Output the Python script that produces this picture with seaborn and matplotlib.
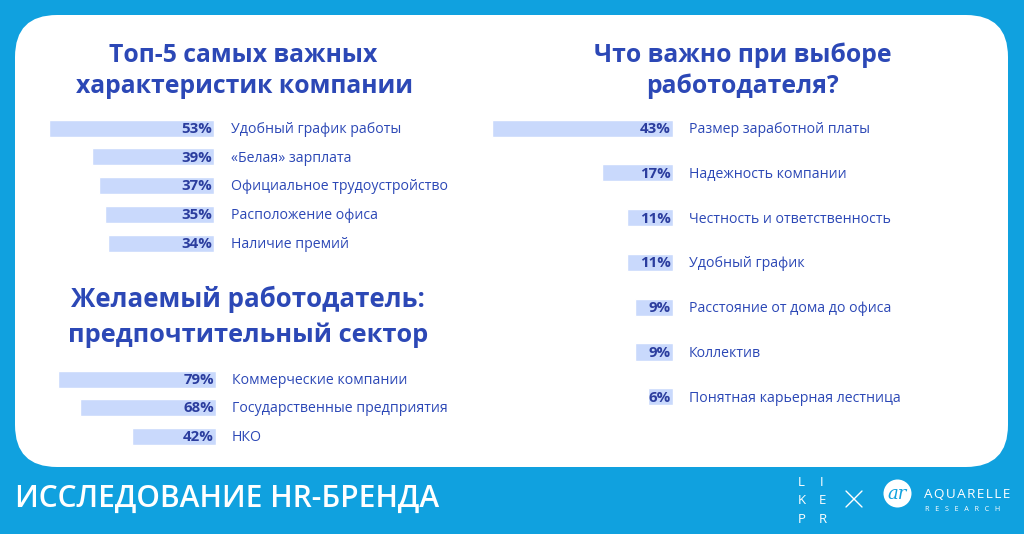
import numpy as np
import pandas as pd
import matplotlib.pyplot as plt
import seaborn as sns
from matplotlib.patches import FancyBboxPatch, Circle
from matplotlib.lines import Line2D

# ---- data ----
top5_labels = ["Удобный график работы", "«Белая» зарплата", "Официальное трудоустройство",
               "Расположение офиса", "Наличие премий"]
top5_values = [53, 39, 37, 35, 34]

sector_labels = ["Коммерческие компании", "Государственные предприятия", "НКО"]
sector_values = [79, 68, 42]

choice_labels = ["Размер заработной платы", "Надежность компании", "Честность и ответственность",
                 "Удобный график", "Расстояние от дома до офиса", "Коллектив",
                 "Понятная карьерная лестница"]
choice_values = [43, 17, 11, 11, 9, 9, 6]

BLUE_BG = "#10a1df"
TEXT = "#2c48b6"
PCT = "#2b3d9e"
BAR = "#c9d9fc"
W, H = 1024, 534

sns.set_theme(style="white")
plt.rcParams['font.family'] = ['Open Sans', 'DejaVu Sans']

fig = plt.figure(figsize=(W / 100, H / 100), dpi=100, facecolor=BLUE_BG)

# overlay axes in pixel coordinates for background + titles
bg = fig.add_axes([0, 0, 1, 1])
bg.set_xlim(0, W)
bg.set_ylim(H, 0)
bg.axis('off')
bg.add_patch(FancyBboxPatch((15, 15), 993, 452, boxstyle="round,pad=0,rounding_size=42",
                            fc="white", ec="none"))


def title(x, y, s, size=17.8):
    bg.text(x, y, s, ha='center', va='baseline', fontsize=size, fontweight='bold', color=TEXT)


title(243, 62.3, "Топ-5 самых важных")
title(245, 92.7, "характеристик компании")
title(248, 306.7, "Желаемый работодатель:", 18.6)
title(248, 341.7, "предпочтительный сектор", 18.3)
title(743, 62.3, "Что важно при выборе")
title(743, 92.7, "работодателя?")

# footer
bg.text(15, 507, "ИССЛЕДОВАНИЕ HR-БРЕНДА", ha='left', va='baseline', fontsize=21.5,
        fontweight='semibold', color='white')
for i, row in enumerate([("L", "I"), ("K", "E"), ("P", "R")]):
    bg.text(798, 486 + i * 18.5, row[0], ha='left', va='baseline', fontsize=9.5, color='white')
    bg.text(818.5 if row[1] != "I" else 820, 486 + i * 18.5, row[1], ha='left',
            va='baseline', fontsize=9.5, color='white')
bg.add_line(Line2D([846, 862], [491, 507], color='white', lw=1))
bg.add_line(Line2D([846, 862], [507, 491], color='white', lw=1))
bg.add_patch(Circle((897.5, 493.5), 14, fc='white', ec='none'))
bg.text(897.5, 494, "ar", ha='center', va='center', fontsize=13, style='italic',
        color=BLUE_BG, family='DejaVu Serif')
bg.text(924, 498, "A Q U A R E L L E".replace(" ", "\u200a"), ha='left', va='baseline',
        fontsize=9.7, color='white')
bg.text(925, 511, "R   E   S   E   A   R   C   H", ha='left', va='baseline', fontsize=5.2,
        color='white')


def bar_panel(labels, values, right, left, y_first, pitch, px_per, lab_gap):
    n = len(values)
    top = y_first - pitch / 2
    height = n * pitch
    ax = fig.add_axes([left / W, 1 - (top + height) / H, (right - left) / W, height / H])
    df = pd.DataFrame({"label": labels, "value": values})
    sns.barplot(data=df, x="value", y="label", orient='h', color=BAR, saturation=1,
                width=17 / pitch, ax=ax)
    ax.set_xlim((right - left) / px_per, 0)
    ax.set_ylim(n - 0.5, -0.5)
    ax.axis('off')
    for i, (lab, v) in enumerate(zip(labels, values)):
        ax.annotate(f"{v}%", (0, i), xytext=(-2, -1), textcoords='offset pixels',
                    ha='right', va='center', fontsize=10.8, fontweight='bold', color=PCT,
                    annotation_clip=False)
        ax.annotate(lab, (0, i), xytext=(lab_gap, -1.5), textcoords='offset pixels',
                    ha='left', va='center', fontsize=10.2, color=TEXT,
                    annotation_clip=False)
    return ax


bar_panel(top5_labels, top5_values, 214, 30, 128, 28.75, 3.12, 17)
bar_panel(sector_labels, sector_values, 216, 30, 379, 28.5, 2.0, 16)
bar_panel(choice_labels, choice_values, 673, 490, 128, 44.8, 4.2, 16)

fig.savefig("out.png", dpi=100, facecolor=BLUE_BG)
